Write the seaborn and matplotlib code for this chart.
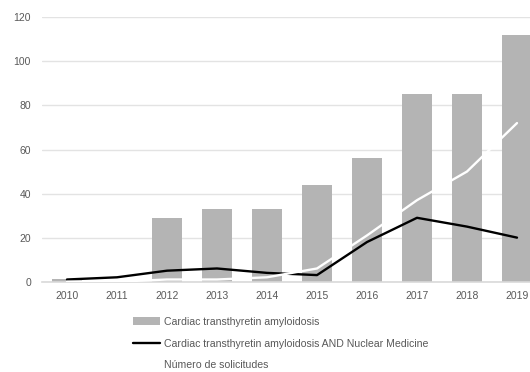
import numpy as np
import pandas as pd
import matplotlib
matplotlib.use("Agg")
import matplotlib.pyplot as plt
import seaborn as sns
from matplotlib.patches import Patch
from matplotlib.lines import Line2D

years = ["2010", "2011", "2012", "2013", "2014", "2015", "2016", "2017", "2018", "2019"]
cardiac_attr = [1, 0, 29, 33, 33, 44, 56, 85, 85, 112]
attr_nuclear = [1, 2, 5, 6, 4, 3, 18, 29, 25, 20]
solicitudes = [0, 0, 1, 1, 2, 6, 21, 37, 50, 72]

labels = ["Cardiac transthyretin amyloidosis",
          "Cardiac transthyretin amyloidosis AND Nuclear Medicine",
          "Número de solicitudes"]

df = pd.DataFrame({"year": years, "bars": cardiac_attr,
                   "nuclear": attr_nuclear, "sol": solicitudes})
df["pos"] = np.arange(len(df))

sns.set_style("white")
plt.rcParams["font.family"] = ["Liberation Sans", "DejaVu Sans"]
txt = "#595959"

fig = plt.figure(figsize=(5.3, 3.72), dpi=100)
ax = fig.add_axes([42 / 530, 1 - 281.7 / 372, 500 / 530, 264.4 / 372])

sns.barplot(data=df, x="year", y="bars", color="#b4b4b4", saturation=1,
            width=0.6, linewidth=0, ax=ax, zorder=2)
sns.lineplot(data=df, x="pos", y="nuclear", color="black", linewidth=1.7,
             ax=ax, zorder=3)
sns.lineplot(data=df, x="pos", y="sol", color="white", linewidth=1.7,
             ax=ax, zorder=4)

ax.set_xlim(-0.5, 9.5)
ax.set_ylim(0, 120)
ax.set_yticks(range(0, 121, 20))
ax.set_xticks(range(len(years)))
ax.set_xticklabels(years)
ax.set_xlabel("")
ax.set_ylabel("")
ax.yaxis.grid(True, color="#e3e3e3", linewidth=1, zorder=0)
ax.set_axisbelow(True)
for s in ["top", "right", "left"]:
    ax.spines[s].set_visible(False)
ax.spines["bottom"].set_color("#d9d9d9")
ax.spines["bottom"].set_linewidth(1.2)
ax.tick_params(axis="y", length=0, pad=8, labelsize=7.5, labelcolor=txt)
ax.tick_params(axis="x", length=0, pad=7, labelsize=7.5, labelcolor=txt)

handles = [Patch(facecolor="#b4b4b4", edgecolor="none"),
           Line2D([], [], color="black", linewidth=1.7),
           Line2D([], [], color="white", linewidth=1.7)]
fig.legend(handles, labels, loc="upper left", bbox_to_anchor=(133 / 530, 1 - 317 / 372),
           frameon=False, fontsize=7.6, labelcolor=txt, handlelength=2.6,
           handleheight=0.8, handletextpad=0.3, labelspacing=1.1, borderpad=0,
           borderaxespad=0)

fig.savefig("out.png", dpi=100)
